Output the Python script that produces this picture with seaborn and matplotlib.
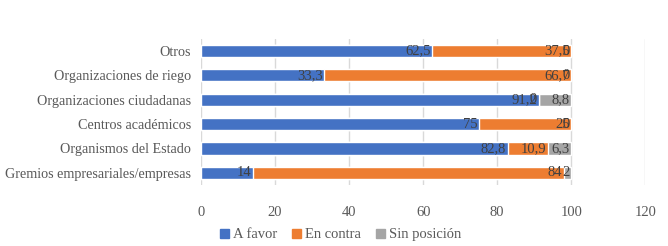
import numpy as np
import pandas as pd
import seaborn as sns
from matplotlib import pyplot as plt
from matplotlib.patches import Patch

categorias = ['Otros', 'Organizaciones de riego', 'Organizaciones ciudadanas',
              'Centros académicos', 'Organismos del Estado',
              'Gremios empresariales/empresas']
a_favor = [62.5, 33.3, 91.2, 75, 82.8, 14]
en_contra = [37.5, 66.7, 0, 25, 10.9, 84]
sin_posicion = [0, 0, 8.8, 0, 6.3, 2]
series = ['A favor', 'En contra', 'Sin posición']
colores = ['#4472C4', '#ED7D31', '#A5A5A5']
xticks = [0, 20, 40, 60, 80, 100, 120]

sns.set_theme(style='white')
plt.rcParams['font.family'] = ['Liberation Serif', 'DejaVu Serif']

df = pd.DataFrame({'cat': categorias, 'A favor': a_favor,
                   'En contra': en_contra, 'Sin posición': sin_posicion})
cum = df[series].cumsum(axis=1)

fig = plt.figure(figsize=[6.68, 2.46], dpi=100)
ax = fig.add_axes([0.301, 0.248, 0.665, 0.594])

# stacked bars: draw the cumulative totals from the back to the front
for s, c in reversed(list(zip(series, colores))):
    sns.barplot(x=cum[s], y=df['cat'], color=c, width=0.5, orient='h',
                ax=ax, saturation=1, zorder=2)

def fmt(v):
    if float(v).is_integer():
        return str(int(v))
    return ('%.1f' % v).replace('.', ',')

# labels at the inner end of each segment (zeros overlap, as in the original)
for s in series:
    for i, (v, end) in enumerate(zip(df[s], cum[s])):
        ax.text(end - 0.4, i, fmt(v), ha='right', va='center',
                fontsize=10.5, color='#404040', zorder=3)

ax.set_xlim(0, 120)
ax.set_xticks(xticks)
ax.set_xlabel('')
ax.set_ylabel('')
ax.grid(axis='x', color='#D9D9D9', lw=1, zorder=0)
for sp in ax.spines.values():
    sp.set_visible(False)
ax.tick_params(axis='both', length=0, labelsize=10.5, colors='#595959')
ax.tick_params(axis='y', labelsize=10.2, pad=7)
ax.tick_params(axis='x', pad=15)

handles = [Patch(color=c, label=s) for s, c in zip(series, colores)]
fig.legend(handles=handles, loc='lower center', bbox_to_anchor=(0.51, -0.035),
           ncol=3, frameon=False, fontsize=10.5, handlelength=0.6,
           handleheight=0.6, handletextpad=0.3, columnspacing=1.0,
           labelcolor='#595959')

plt.savefig('out.png', dpi=100)
